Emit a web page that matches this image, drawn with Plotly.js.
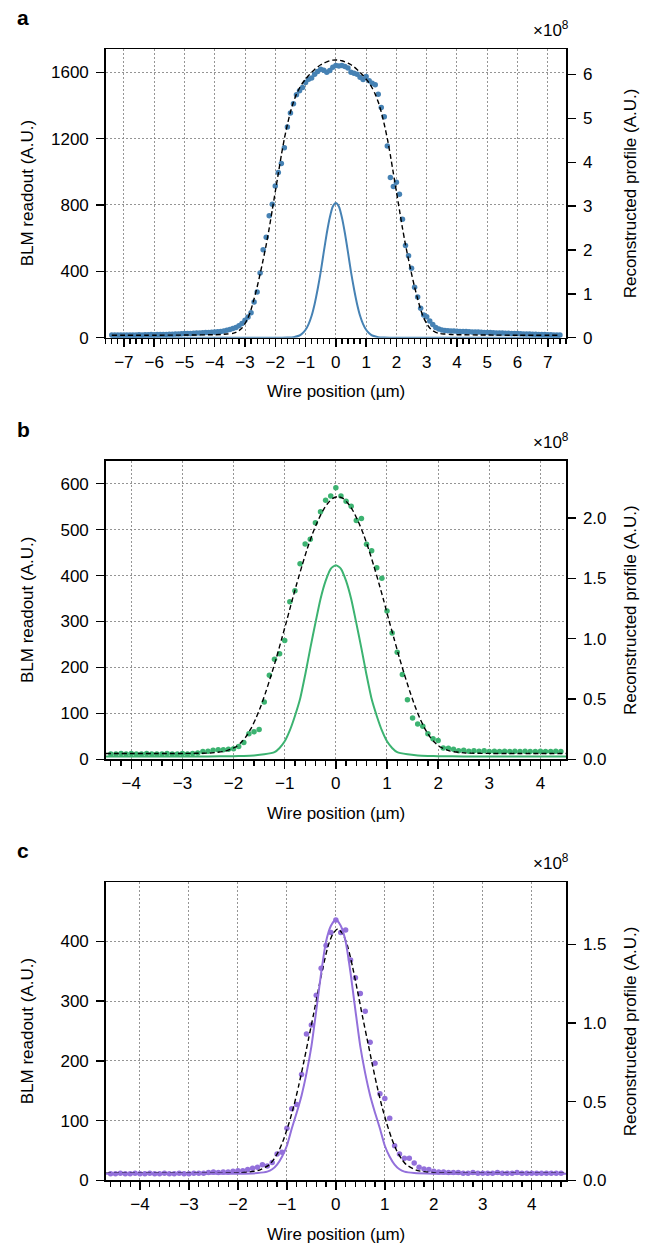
<!DOCTYPE html>
<html><head><meta charset="utf-8">
<script src="https://cdn.plot.ly/plotly-3.0.1.min.js"></script>
<style>html,body{margin:0;padding:0;background:#fff}#chart{width:653px;height:1244px}</style>
</head><body><div id="chart"></div><script>
// ---------- Panel a ----------
const aPosX = [-7.4,-7.3,-7.2,-7.1,-7.0,-6.9,-6.8,-6.7,-6.6,-6.5,-6.4,-6.3,-6.2,-6.1,-6.0,-5.9,-5.8,-5.7,-5.6,-5.5,-5.4,-5.3,-5.2,-5.1,-5.0,-4.9,-4.8,-4.7,-4.6,-4.5,-4.4,-4.3,-4.2,-4.1,-4.0,-3.9,-3.8,-3.7,-3.6,-3.5,-3.4,-3.3,-3.2,-3.1,-3.0,-2.9,-2.8,-2.7,-2.6,-2.5,-2.4,-2.3,-2.2,-2.1,-2.0,-1.9,-1.8,-1.7,-1.6,-1.5,-1.4,-1.3,-1.2,-1.1,-1.0,-0.9,-0.8,-0.7,-0.6,-0.5,-0.4,-0.3,-0.2,-0.1,0.0,0.1,0.2,0.3,0.4,0.5,0.6,0.7,0.8,0.9,1.0,1.1,1.2,1.3,1.4,1.5,1.6,1.7,1.8,1.9,2.0,2.1,2.2,2.3,2.4,2.5,2.6,2.7,2.8,2.9,3.0,3.1,3.2,3.3,3.4,3.5,3.6,3.7,3.8,3.9,4.0,4.1,4.2,4.3,4.4,4.5,4.6,4.7,4.8,4.9,5.0,5.1,5.2,5.3,5.4,5.5,5.6,5.7,5.8,5.9,6.0,6.1,6.2,6.3,6.4,6.5,6.6,6.7,6.8,6.9,7.0,7.1,7.2,7.3,7.4];
const aBLM = [17,16,17,16,17,
  17,16,17,17,18,17,18,18,19,18,
  19,19,20,20,21,21,22,23,24,25,
  25,26,27,28,29,30,31,32,33,34,
  36,38,41,45,49,55,62,72,86,105,
  125,150,215,275,390,530,605,735,805,915,
  995,1050,1145,1270,1355,1410,1465,1488,1508,1538,
  1558,1565,1588,1605,1618,1612,1600,1610,1630,1640,
  1638,1640,1635,1625,1600,1594,1588,1570,1556,1574,
  1548,1534,1524,1467,1387,1331,1156,965,911,937,
  864,714,555,494,418,304,245,177,137,127,
  100,80,62,52,47,44,42,41,40,39,
  38,37,37,36,35,35,34,33,32,31,
  31,30,29,29,28,27,27,26,25,25,
  24,23,23,22,21,21,20,19,19,18,
  18,17,17,16];
const aFitX = [-7.4,-6,-5,-4,-3.8,-3.6,-3.4,-3.3,-3.2,-3.1,-3.0,-2.9,-2.8,-2.7,-2.6,-2.5,-2.4,-2.3,-2.2,-2.1,-2.0,-1.9,-1.8,-1.7,-1.6,-1.5,-1.4,-1.3,-1.2,-1.1,-1.0,-0.9,-0.8,-0.7,-0.6,-0.5,-0.4,-0.3,-0.2,-0.1,0,
  0.1,0.2,0.3,0.4,0.5,0.6,0.7,0.8,0.9,1.0,1.1,1.2,1.3,1.4,1.5,1.6,1.7,1.8,1.9,2.0,2.1,2.2,2.3,2.4,2.5,2.6,2.7,2.8,2.9,3.0,3.1,3.2,3.3,3.4,3.6,3.8,4,5,6,7.4];
const aFitY = [15,15,16,18,19,22,26,32,42,58,85,120,170,235,305,385,470,560,660,770,880,990,1100,1200,1285,1360,1420,1468,1505,1535,1558,1580,1600,1617,1632,1645,1655,1663,1669,1673,1674,
  1673,1669,1663,1655,1645,1632,1617,1600,1580,1558,1535,1505,1468,1420,1360,1285,1200,1100,990,880,770,660,560,470,385,305,235,170,120,85,58,42,32,26,22,19,18,16,15,15];
const aProfX = [-7.4,-2.0,-1.6,-1.4,-1.2,-1.1,-1.0,-0.9,-0.8,-0.7,-0.6,-0.5,-0.4,-0.3,-0.2,-0.1,0,0.1,0.2,0.3,0.4,0.5,0.6,0.7,0.8,0.9,1.0,1.1,1.2,1.4,1.6,2.0,7.4];
const aProf = [0,0,0.005,0.012,0.05,0.10,0.18,0.31,0.50,0.77,1.11,1.50,1.95,2.38,2.74,2.99,3.07,2.99,2.74,2.38,1.95,1.50,1.11,0.77,0.50,0.31,0.18,0.10,0.05,0.012,0.005,0,0];
const aTicksX = [-7,-6,-5,-4,-3,-2,-1,0,1,2,3,4,5,6,7];
const aTicksY = [0,400,800,1200,1600];
const aTicksR = [0,1,2,3,4,5,6];
const aTicksRText = ['0','1','2','3','4','5','6'];

// ---------- Panel b ----------
const bPosX = [-4.4,-4.3,-4.2,-4.1,-4.0,-3.9,-3.8,-3.7,-3.6,-3.5,-3.4,-3.3,-3.2,-3.1,-3.0,-2.9,-2.8,-2.7,-2.6,-2.5,-2.4,-2.3,-2.2,-2.1,-2.0,-1.9,-1.8,-1.7,-1.6,-1.5,-1.4,-1.3,-1.2,-1.1,-1.0,-0.9,-0.8,-0.7,-0.6,-0.5,-0.4,-0.3,-0.2,-0.1,0.0,0.1,0.2,0.3,0.4,0.5,0.6,0.7,0.8,0.9,1.0,1.1,1.2,1.3,1.4,1.5,1.6,1.7,1.8,1.9,2.0,2.1,2.2,2.3,2.4,2.5,2.6,2.7,2.8,2.9,3.0,3.1,3.2,3.3,3.4,3.5,3.6,3.7,3.8,3.9,4.0,4.1,4.2,4.3,4.4];
const bBLM = [12,12,13,12,13,12,12,13,12,12,
  12,13,12,12,13,12,13,14,17,18,
  20,21,21,22,23,28,37,56,60,65,
  125,183,218,230,259,343,367,426,469,479,
  515,539,564,573,591,573,562,551,520,524,
  468,454,417,394,323,275,233,185,130,90,
  77,72,56,45,41,25,24,22,19,20,
  18,19,18,19,17,18,17,18,17,18,
  17,18,17,17,18,17,17,18,17];
const bFitX = [-4.5,-2.96,-2.46,-2.16,-1.96,-1.86,-1.76,-1.66,-1.56,-1.46,-1.36,-1.26,-1.16,-1.06,-0.96,-0.86,-0.76,-0.66,-0.56,-0.46,-0.36,-0.26,-0.16,-0.06,0.04,
  0.14,0.24,0.34,0.44,0.54,0.64,0.74,0.84,0.94,1.04,1.14,1.24,1.34,1.44,1.54,1.64,1.74,1.84,1.94,2.04,2.24,2.54,3.04,4.5];
const bFitY = [13,13,14,18,27,36,49,67,90,118,150,185,222,262,302,344,384,422,458,490,517,540,557,568,572,
  568,557,540,517,490,458,422,384,344,302,262,222,185,150,118,90,67,49,36,27,18,14,13,13];
const bProfX = [-4.5,-2.5,-2.0,-1.8,-1.6,-1.4,-1.2,-1.1,-1.0,-0.9,-0.8,-0.7,-0.6,-0.5,-0.4,-0.3,-0.2,-0.1,0,0.1,0.2,0.3,0.4,0.5,0.6,0.7,0.8,0.9,1.0,1.1,1.2,1.4,1.6,1.8,2.0,2.5,4.5];
const bProf = [0.025,0.025,0.027,0.029,0.033,0.042,0.06,0.095,0.15,0.24,0.36,0.50,0.70,0.92,1.13,1.33,1.48,1.58,1.61,1.58,1.48,1.33,1.13,0.92,0.70,0.50,0.36,0.24,0.15,0.095,0.06,0.042,0.033,0.029,0.027,0.025,0.025];
const bTicksX = [-4,-3,-2,-1,0,1,2,3,4];
const bTicksY = [0,100,200,300,400,500,600];
const bTicksR = [0,0.5,1.0,1.5,2.0];
const bTicksRText = ['0.0','0.5','1.0','1.5','2.0'];

// ---------- Panel c ----------
const cPosX = [-4.6,-4.5,-4.4,-4.3,-4.2,-4.1,-4.0,-3.9,-3.8,-3.7,-3.6,-3.5,-3.4,-3.3,-3.2,-3.1,-3.0,-2.9,-2.8,-2.7,-2.6,-2.5,-2.4,-2.3,-2.2,-2.1,-2.0,-1.9,-1.8,-1.7,-1.6,-1.5,-1.4,-1.3,-1.2,-1.1,-1.0,-0.9,-0.8,-0.7,-0.6,-0.5,-0.4,-0.3,-0.2,-0.1,0.0,0.1,0.2,0.3,0.4,0.5,0.6,0.7,0.8,0.9,1.0,1.1,1.2,1.3,1.4,1.5,1.6,1.7,1.8,1.9,2.0,2.1,2.2,2.3,2.4,2.5,2.6,2.7,2.8,2.9,3.0,3.1,3.2,3.3,3.4,3.5,3.6,3.7,3.8,3.9,4.0,4.1,4.2,4.3,4.4,4.5,4.6];
const cBLM = [11,11,12,11,11,12,11,11,12,11,
  11,12,11,11,12,11,11,12,12,12,
  13,14,13,14,14,15,16,16,18,20,
  22,26,24,30,44,47,87,120,127,177,
  245,260,310,355,393,415,436,415,419,369,
  339,313,283,231,196,145,137,104,58,44,
  37,37,29,22,19,18,15,14,14,13,
  13,13,12,12,13,12,12,12,12,13,
  12,12,12,13,12,12,12,12,12,12,
  12,12,12];
const cFitX = [-4.7,-2.46,-1.96,-1.76,-1.56,-1.36,-1.26,-1.16,-1.06,-0.96,-0.86,-0.76,-0.66,-0.56,-0.46,-0.36,-0.26,-0.16,-0.06,0.04,
  0.14,0.24,0.34,0.44,0.54,0.64,0.74,0.84,0.94,1.04,1.14,1.24,1.34,1.44,1.64,1.84,2.04,2.54,4.7];
const cFitY = [12,12,12.5,14,17,26,36,50,70,95,124,158,196,236,276,318,358,392,413,421,
  413,392,358,318,276,236,196,158,124,95,70,50,36,26,17,14,12.5,12,12];
const cProfX = [-4.7,-2.0,-1.6,-1.4,-1.3,-1.2,-1.1,-1.0,-0.9,-0.8,-0.7,-0.6,-0.5,-0.4,-0.3,-0.2,-0.1,0,0.1,0.2,0.3,0.4,0.5,0.6,0.7,0.8,0.9,1.0,1.1,1.2,1.3,1.4,1.6,2.0,4.7];
const cProf = [0.042,0.042,0.046,0.055,0.07,0.10,0.15,0.22,0.33,0.43,0.54,0.68,0.85,1.08,1.32,1.52,1.62,1.66,1.62,1.52,1.32,1.08,0.85,0.68,0.54,0.43,0.33,0.22,0.15,0.10,0.07,0.055,0.046,0.042,0.042];
const cTicksX = [-4,-3,-2,-1,0,1,2,3,4];
const cTicksY = [0,100,200,300,400];
const cTicksR = [0,0.5,1.0,1.5];
const cTicksRText = ['0.0','0.5','1.0','1.5'];

// ---------- styling ----------
const W = 653, H = 1244;
const FONT = 'Liberation Sans, Arial, Helvetica, sans-serif';
const FS = 17;
const xd = [105.7/W, 566/W];
const panels = [
  {top:49, bot:337.7, xr:[-7.6,7.6], yr:[0,1740], rr:[0,6.58], col:'#4682b4',
   px:aPosX, py:aBLM, fx:aFitX, fy:aFitY, sx:aProfX, sy:aProf,
   tx:aTicksX, ty:aTicksY, tr:aTicksR, trt:aTicksRText, lab:'a'},
  {top:460.7, bot:759.4, xr:[-4.5,4.5], yr:[0,650], rr:[0,2.476], col:'#3cb371',
   px:bPosX, py:bBLM, fx:bFitX, fy:bFitY, sx:bProfX, sy:bProf,
   tx:bTicksX, ty:bTicksY, tr:bTicksR, trt:bTicksRText, lab:'b'},
  {top:882.3, bot:1180.3, xr:[-4.7,4.7], yr:[0,499], rr:[0,1.896], col:'#9370db',
   px:cPosX, py:cBLM, fx:cFitX, fy:cFitY, sx:cProfX, sy:cProf,
   tx:cTicksX, ty:cTicksY, tr:cTicksR, trt:cTicksRText, lab:'c'}
];
const fy = y => 1 - y/H;
const fx = x => x/W;

const data = [];
const layout = {
  width: W, height: H, margin:{l:0,r:0,t:0,b:0},
  paper_bgcolor:'white', plot_bgcolor:'white', showlegend:false,
  font:{family:FONT, size:FS, color:'black'},
  annotations:[]
};
const tickfont = {family:FONT, size:FS, color:'black'};

panels.forEach((p, i) => {
  const xn = i+1, yl = 2*i+1, yr = 2*i+2;
  const xk = xn===1 ? 'x' : 'x'+xn;
  const ylk = yl===1 ? 'y' : 'y'+yl;
  const yrk = 'y'+yr;
  const dom = [fy(p.bot), fy(p.top)];
  layout['xaxis'+(xn===1?'':xn)] = {
    domain: xd, anchor: ylk, range: p.xr, tickvals: p.tx,
    showgrid:true, gridcolor:'#7a7a7a', gridwidth:0.8, griddash:'2px,2px',
    showline:true, linecolor:'black', linewidth:1.5, mirror:true,
    ticks:'outside', ticklen:8, tickwidth:1.4, tickcolor:'black',
    minor:{dtick:0.2, tick0:0, ticks:'outside', ticklen:5, tickwidth:1.2, tickcolor:'black', showgrid:false},
    zeroline:false, tickfont: tickfont, fixedrange:true
  };
  layout['yaxis'+(yl===1?'':yl)] = {
    domain: dom, anchor: xk, range: p.yr, tickvals: p.ty,
    showgrid:true, gridcolor:'#7a7a7a', gridwidth:0.8, griddash:'2px,2px',
    showline:true, linecolor:'black', linewidth:1.5,
    ticks:'outside', ticklen:8, tickwidth:1.4, tickcolor:'black',
    zeroline:false, tickfont: tickfont, ticklabelstandoff:4
  };
  layout['yaxis'+yr] = {
    overlaying: ylk, side:'right', anchor: xk, range: p.rr,
    tickvals: p.tr, ticktext: p.trt,
    showgrid:false, showline:true, linecolor:'black', linewidth:1.5,
    ticks:'outside', ticklen:8, tickwidth:1.4, tickcolor:'black',
    zeroline:false, tickfont: tickfont, ticklabelstandoff:4
  };
  data.push({type:'scatter', mode:'markers', x:p.px, y:p.py, xaxis:xk, yaxis:ylk,
    marker:{color:p.col, size:5.5, line:{width:0}}, cliponaxis:false});
  data.push({type:'scatter', mode:'lines', x:p.sx, y:p.sy, xaxis:xk, yaxis:yrk,
    line:{color:p.col, width:2, shape:'spline', smoothing:0.6}});
  data.push({type:'scatter', mode:'lines', x:p.fx, y:p.fy, xaxis:xk, yaxis:ylk,
    line:{color:'black', width:1.4, dash:'5px,3px', shape:'spline', smoothing:0.6}});

  const mid = (p.top + p.bot)/2;
  layout.annotations.push(
    {xref:'paper', yref:'paper', x:fx(15), y:fy(p.top-22), xanchor:'left', yanchor:'bottom',
     text:'<b>'+p.lab+'</b>', showarrow:false, font:{family:FONT, size:21, color:'black'}, yshift:-4},
    {xref:'paper', yref:'paper', x:fx(571), y:fy(p.top-7), xanchor:'right', yanchor:'bottom',
     text:'×10<sup>8</sup>', showarrow:false, font:{family:FONT, size:FS, color:'black'}},
    {xref:'paper', yref:'paper', x:fx(27), y:fy(mid), xanchor:'center', yanchor:'middle',
     text:'BLM readout (A.U.)', textangle:-90, showarrow:false, font:{family:FONT, size:FS, color:'black'}},
    {xref:'paper', yref:'paper', x:fx(630), y:fy(mid), xanchor:'center', yanchor:'middle',
     text:'Reconstructed profile (A.U.)', textangle:-90, showarrow:false, font:{family:FONT, size:FS, color:'black'}},
    {xref:'paper', yref:'paper', x:fx(335.9), y:fy(p.bot+54), xanchor:'center', yanchor:'middle',
     text:'Wire position (µm)', showarrow:false, font:{family:FONT, size:FS, color:'black'}}
  );
});

Plotly.newPlot('chart', data, layout, {staticPlot:true, displayModeBar:false});
</script></body></html>
